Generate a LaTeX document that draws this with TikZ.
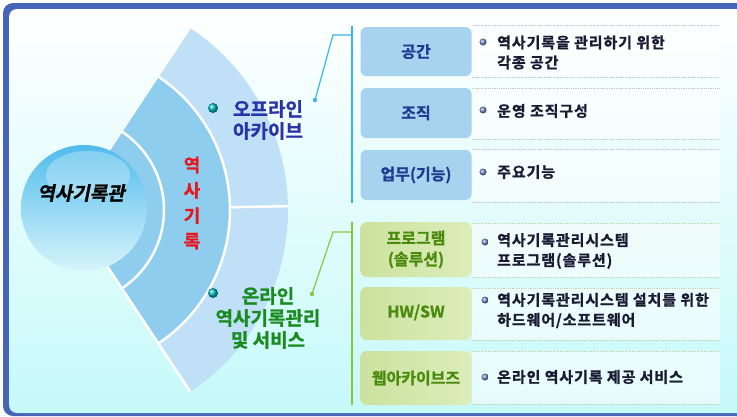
\documentclass[tikz,border=0pt]{standalone}
\usepackage{fontspec}
\setmainfont{Noto Sans CJK KR}[BoldFont={Noto Sans CJK KR Bold}, BoldFeatures={FakeBold=1}]
\newfontfamily\krsl{Noto Sans CJK KR Bold}[FakeSlant=0.2, FakeBold=1.2]
\newfontfamily\krrow{Noto Sans CJK KR Bold}[LetterSpace=6, FakeBold=1]
\usetikzlibrary{calc}
\definecolor{frameblue}{RGB}{70,100,185}
\definecolor{bgcyan}{RGB}{198,249,250}
\definecolor{ringlight}{RGB}{192,224,248}
\definecolor{ringmid}{RGB}{142,205,238}
\definecolor{sphtop}{RGB}{80,188,236}
\definecolor{sphbot}{RGB}{216,244,251}
\definecolor{offblue}{RGB}{42,50,168}
\definecolor{ongreen}{RGB}{24,138,30}
\definecolor{recred}{RGB}{232,20,30}
\definecolor{linecyan}{RGB}{56,182,232}
\definecolor{linegreen}{RGB}{140,198,62}
\definecolor{boxblue}{RGB}{168,211,238}
\definecolor{boxgreenL}{RGB}{204,226,158}
\definecolor{boxgreenR}{RGB}{220,237,186}
\definecolor{lblblue}{RGB}{32,60,144}
\definecolor{lblgreen}{RGB}{74,138,14}
\definecolor{rowtxt}{RGB}{26,26,50}
\definecolor{dotblue}{RGB}{185,195,210}
\definecolor{dotgreen}{RGB}{195,210,175}
\definecolor{bulletc}{RGB}{120,140,205}
\begin{document}
\begin{tikzpicture}[x=1pt,y=-1pt,
  bluebox/.style={rounded corners=6pt, fill=boxblue, minimum width=111pt, inner sep=0pt, font=\bfseries\fontsize{16}{21}\selectfont, text=lblblue, align=center},
  greenbox/.style={rounded corners=6pt, left color=boxgreenL, right color=boxgreenR, minimum width=111pt, inner sep=0pt, font=\bfseries\fontsize{16}{21}\selectfont, text=lblgreen, align=center},
  rowtext/.style={anchor=west, align=left, inner sep=0pt, text=rowtxt, font=\krrow\fontsize{15}{20}\selectfont},
  rbullet/.style={circle, inner sep=0pt, minimum size=7pt, ball color=bulletc},
  fbullet/.style={circle, inner sep=0pt, minimum size=10pt, ball color=teal!55!cyan},
  fantext/.style={font=\bfseries\fontsize{19}{22}\selectfont, align=center, inner sep=0pt},
  wline/.style={white, line width=2.5pt},
]
\useasboundingbox (0,0) rectangle (737,416);
\clip (0,0) rectangle (737,416);
% frame and background
\fill[frameblue, rounded corners=10pt] (3,3) rectangle (770,416);
\shade[top color=white, bottom color=bgcyan, rounded corners=8pt] (9,9) rectangle (770,413);

% fan
\coordinate (fc) at (70,210);
\fill[ringlight] (fc) -- ($(fc)+(-56.5:218)$) arc[start angle=-56.5, end angle=56.5, radius=218] -- cycle;
\fill[ringmid] (fc) -- ($(fc)+(-56.5:160)$) arc[start angle=-56.5, end angle=56.5, radius=160] -- cycle;
\draw[wline] ($(fc)+(-56.5:94)$) arc[start angle=-56.5, end angle=56.5, radius=94];
\draw[wline] ($(fc)+(-56.5:160)$) arc[start angle=-56.5, end angle=56.5, radius=160];
\draw[wline] ($(fc)+(-1:160)$) -- ($(fc)+(-1:218)$);
\draw[wline] (fc) -- ($(fc)+(56.5:218)$);
\draw[white, line width=1pt] (fc) -- ($(fc)+(-56.5:218)$);

% sphere
\shade[top color=sphtop, bottom color=sphbot] (84,208) circle[radius=63];
\fill[white, opacity=0.28] (88,175) ellipse[x radius=42, y radius=24];
\node[font=\krsl\fontsize{19}{22}\selectfont, text=black, inner sep=0pt] (hall) at (81,193) {역사기록관};

% fan texts
\node[fantext, text=recred, font=\bfseries\fontsize{18}{25.3}\selectfont] (rec) at (192,203) {역\\사\\기\\록};
\node[fbullet] (fb1) at (213,108) {};
\node[fantext, text=offblue] (off) at (268,120) {오프라인\\아카이브};
\node[fbullet] (fb2) at (213,293) {};
\node[fantext, text=ongreen] (on) at (268,318) {온라인\\역사기록관리\\및 서비스};

% connectors
\coordinate (d1) at (315,100);
\coordinate (k1) at (333,35);
\coordinate (v1t) at (352,26);
\coordinate (v1b) at (352,203);
\draw[linecyan, line width=1.2pt] (d1) -- (k1) -- (k1 -| v1t);
\draw[linecyan, line width=1.5pt] (v1t) -- (v1b);
\fill[linecyan] (d1) circle[radius=2.2];
\coordinate (d2) at (312,294);
\coordinate (k2) at (333,232);
\coordinate (v2t) at (352,222);
\coordinate (v2b) at (352,405);
\draw[linegreen, line width=1.2pt] (d2) -- (k2) -- (k2 -| v2t);
\draw[linegreen, line width=1.5pt] (v2t) -- (v2b);
\fill[linegreen] (d2) circle[radius=2.2];

% rows
\foreach \a/\b in {25/77, 88/139, 149/202}{
  \fill[white, opacity=0.55] (472,\a) rectangle (720,\b);
  \draw[dotblue, densely dotted, line width=0.8pt] (472,\a) -- (720,\a);
  \draw[dotblue, densely dotted, line width=0.8pt] (472,\b) -- (720,\b);
}
\foreach \a/\b in {223/277, 288/340, 351/404}{
  \fill[white, opacity=0.55] (472,\a) rectangle (720,\b);
  \draw[dotgreen, densely dotted, line width=0.8pt] (472,\a) -- (720,\a);
  \draw[dotgreen, densely dotted, line width=0.8pt] (472,\b) -- (720,\b);
}

% boxes top
\node[bluebox, minimum height=49pt] (s1) at (416,51.5) {공간};
\node[bluebox, minimum height=50pt] (s2) at (416,113) {조직};
\node[bluebox, minimum height=50pt] (s3) at (416,175) {업무(기능)};
% boxes bottom
\node[greenbox, minimum height=55pt] (g1) at (416,249.5) {프로그램\\(솔루션)};
\node[greenbox, minimum height=53pt] (g2) at (416,313.5) {\raisebox{5pt}{HW/SW}};
\node[greenbox, minimum height=54pt] (g3) at (416,378) {웹아카이브즈};

% row texts
\node[rbullet] (rb1) at (483,42) {};
\node[rowtext] (r1) at (497,52.5) {역사기록을 관리하기 위한\\각종 공간};
\node[rbullet] (rb2) at (483,110) {};
\node[rowtext] (r2) at (497,111) {운영 조직구성};
\node[rbullet] (rb3) at (483,172) {};
\node[rowtext] (r3) at (497,172) {주요기능};
\node[rbullet] (rb4) at (485,242) {};
\node[rowtext] (r4) at (497,251) {역사기록관리시스템\\프로그램(솔루션)};
\node[rbullet] (rb5) at (485,300) {};
\node[rowtext] (r5) at (497,310.5) {역사기록관리시스템 설치를 위한\\하드웨어/소프트웨어};
\node[rbullet] (rb6) at (485,377) {};
\node[rowtext] (r6) at (497,377) {온라인 역사기록 제공 서비스};
\end{tikzpicture}
\end{document}
